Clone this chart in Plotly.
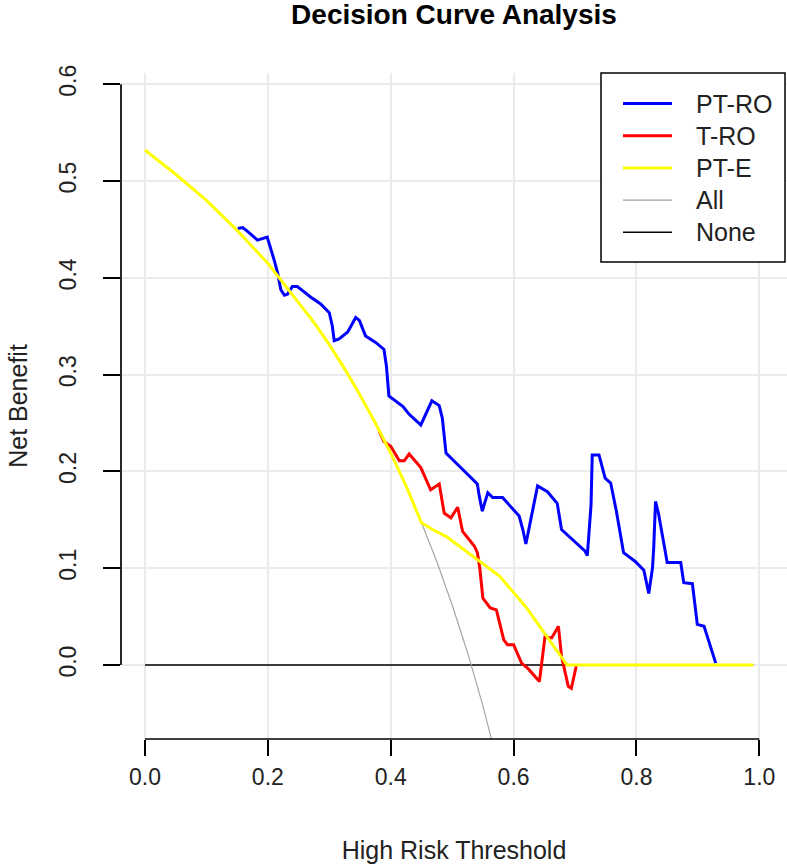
import plotly.graph_objects as go

# ---------------- data ----------------
pt_ro_x = [0.151, 0.159, 0.167, 0.183, 0.199, 0.202, 0.210, 0.216, 0.221, 0.227, 0.232, 0.240,
           0.248, 0.256, 0.270, 0.286, 0.300, 0.305, 0.308, 0.316, 0.330, 0.343, 0.349, 0.359,
           0.376, 0.389, 0.393, 0.397, 0.405, 0.420, 0.430, 0.449, 0.467, 0.479, 0.484, 0.490,
           0.506, 0.541, 0.544, 0.549, 0.558, 0.566, 0.582, 0.609, 0.615, 0.620, 0.626, 0.639,
           0.655, 0.671, 0.678, 0.716, 0.720, 0.723, 0.726, 0.728, 0.739, 0.749, 0.758, 0.767,
           0.779, 0.798, 0.812, 0.820, 0.826, 0.828, 0.831, 0.836, 0.847, 0.850, 0.872, 0.877,
           0.891, 0.899, 0.910, 0.929]
pt_ro_y = [0.451, 0.452, 0.448, 0.439, 0.442, 0.436, 0.419, 0.405, 0.388, 0.382, 0.383, 0.391,
           0.391, 0.387, 0.380, 0.373, 0.364, 0.350, 0.335, 0.337, 0.344, 0.359, 0.356, 0.340,
           0.333, 0.326, 0.309, 0.278, 0.274, 0.267, 0.259, 0.248, 0.273, 0.268, 0.255, 0.219,
           0.209, 0.187, 0.175, 0.159, 0.178, 0.173, 0.173, 0.154, 0.140, 0.125, 0.144, 0.185,
           0.179, 0.167, 0.140, 0.118, 0.113, 0.138, 0.165, 0.217, 0.217, 0.193, 0.188, 0.160,
           0.116, 0.107, 0.098, 0.074, 0.100, 0.120, 0.169, 0.156, 0.117, 0.106, 0.106, 0.085,
           0.084, 0.042, 0.040, 0.002]

t_ro_x = [0.381, 0.389, 0.400, 0.414, 0.422, 0.430, 0.449, 0.465, 0.479, 0.487, 0.498, 0.509,
          0.517, 0.536, 0.541, 0.545, 0.550, 0.562, 0.572, 0.584, 0.590, 0.600, 0.613, 0.624,
          0.642, 0.651, 0.662, 0.673, 0.678, 0.689, 0.694, 0.702]
t_ro_y = [0.242, 0.231, 0.226, 0.211, 0.211, 0.218, 0.204, 0.181, 0.187, 0.157, 0.152, 0.163,
          0.138, 0.123, 0.116, 0.100, 0.069, 0.059, 0.057, 0.026, 0.021, 0.021, 0.002, -0.004,
          -0.017, 0.029, 0.028, 0.040, 0.009, -0.022, -0.024, -0.001]

pt_e_x = [0.0, 0.05, 0.10, 0.15, 0.20, 0.25, 0.275, 0.30, 0.325, 0.35, 0.375, 0.40, 0.425,
          0.45, 0.468, 0.490, 0.544, 0.577, 0.620, 0.653, 0.687, 0.99]
pt_e_y = [0.532, 0.507, 0.480, 0.449, 0.415, 0.375, 0.354, 0.331, 0.306, 0.279, 0.250, 0.219,
          0.185, 0.147, 0.140, 0.133, 0.108, 0.092, 0.060, 0.030, 0.000, 0.000]

all_x = [0.0, 0.05, 0.10, 0.15, 0.20, 0.25, 0.275, 0.30, 0.325, 0.35, 0.375, 0.40, 0.425,
         0.45, 0.475, 0.50, 0.525, 0.55, 0.575]
all_y = [0.532, 0.507, 0.480, 0.449, 0.415, 0.375, 0.354, 0.331, 0.306, 0.279, 0.250, 0.219,
         0.185, 0.147, 0.107, 0.062, 0.013, -0.042, -0.104]

none_x = [0.0, 0.99]
none_y = [0.0, 0.0]

series_names = ["PT-RO", "T-RO", "PT-E", "All", "None"]
series_colors = ["#0000FF", "#FF0000", "#FFFF00", "#A0A0A0", "#000000"]
series_widths = [3, 3, 3, 1.1, 1.5]

x_ticks = [0.0, 0.2, 0.4, 0.6, 0.8, 1.0]
x_tick_labels = ["0.0", "0.2", "0.4", "0.6", "0.8", "1.0"]
y_ticks = [0.0, 0.1, 0.2, 0.3, 0.4, 0.5, 0.6]
y_tick_labels = ["0.0", "0.1", "0.2", "0.3", "0.4", "0.5", "0.6"]

FONT = "Liberation Sans, Arial, sans-serif"
TXT = "#222222"

W, H = 787, 866
ML, MR, MT, MB = 121, 0, 73, 127
PW, PH = W - ML - MR, H - MT - MB


def px_to_paper_x(px):
    return (px - ML) / PW


def px_to_paper_y(py):
    return (H - MB - py) / PH


fig = go.Figure()
draw_order = [4, 3, 0, 1, 2]  # None, All below; PT-E on top
series_xy = {0: (pt_ro_x, pt_ro_y), 1: (t_ro_x, t_ro_y), 2: (pt_e_x, pt_e_y),
             3: (all_x, all_y), 4: (none_x, none_y)}
for i in draw_order:
    xs, ys = series_xy[i]
    fig.add_trace(go.Scatter(x=xs, y=ys, mode="lines", name=series_names[i],
                             line=dict(color=series_colors[i], width=series_widths[i]),
                             showlegend=False))

fig.update_layout(
    width=W, height=H,
    margin=dict(l=ML, r=MR, t=MT, b=MB, autoexpand=False),
    paper_bgcolor="white", plot_bgcolor="white",
    font=dict(family=FONT, size=23, color=TXT),
    title=dict(text="<b>Decision Curve Analysis</b>", x=0.5, xref="paper", xanchor="center",
               y=1 - 14.5 / H, yref="container", yanchor="middle",
               font=dict(family=FONT, size=28, color="#000000")),
    showlegend=False,
    xaxis=dict(range=[-0.039, 1.045], tickvals=x_ticks, ticktext=x_tick_labels,
               automargin=False,
               showgrid=True, gridcolor="#EBEBEB", gridwidth=1.5, zeroline=False,
               showline=False, ticks="outside", ticklen=16, tickwidth=1.7, tickcolor="#000000",
               ticklabelstandoff=1, tickfont=dict(family=FONT, size=23, color=TXT),
               title=dict(text="High Risk Threshold", standoff=52,
                          font=dict(family=FONT, size=25, color=TXT))),
    yaxis=dict(range=[-0.0764, 0.6116], tickvals=y_ticks, ticktext=y_tick_labels,
               automargin=False,
               showgrid=True, gridcolor="#EBEBEB", gridwidth=1.5, zeroline=False,
               showline=False, ticks="outside", ticklen=17, tickwidth=1.7, tickcolor="#000000",
               tickangle=-90, ticklabelstandoff=18, tickfont=dict(family=FONT, size=23, color=TXT),
               title=dict(text="Net Benefit", standoff=20,
                          font=dict(family=FONT, size=25, color=TXT))),
)

# R-style axis lines spanning only from the first to the last tick
fig.add_shape(type="line", xref="x", yref="paper", x0=x_ticks[0], x1=x_ticks[-1], y0=0, y1=0,
              line=dict(color="#000000", width=1.7))
fig.add_shape(type="line", xref="paper", yref="y", x0=0, x1=0, y0=y_ticks[0], y1=y_ticks[-1],
              line=dict(color="#000000", width=1.7))

# R-style legend box (top right)
box_left, box_right, box_top, box_bottom = 601, 785, 73, 262
fig.add_shape(type="rect", xref="paper", yref="paper",
              x0=px_to_paper_x(box_left), x1=px_to_paper_x(box_right),
              y0=px_to_paper_y(box_bottom), y1=px_to_paper_y(box_top),
              line=dict(color="#000000", width=1.5), fillcolor="white", layer="above")
row0, row_gap = 103.5, 32.2
for k, name in enumerate(series_names):
    ry = px_to_paper_y(row0 + k * row_gap)
    fig.add_shape(type="line", xref="paper", yref="paper",
                  x0=px_to_paper_x(623), x1=px_to_paper_x(672), y0=ry, y1=ry,
                  line=dict(color=series_colors[k], width=series_widths[k]), layer="above")
    fig.add_annotation(text=name, xref="paper", yref="paper", x=px_to_paper_x(694), y=ry,
                       xanchor="left", yanchor="middle", showarrow=False,
                       font=dict(family=FONT, size=25, color=TXT))

fig.write_html("out.html", config={"displayModeBar": False},
               post_script="document.body.style.margin='0px';")
